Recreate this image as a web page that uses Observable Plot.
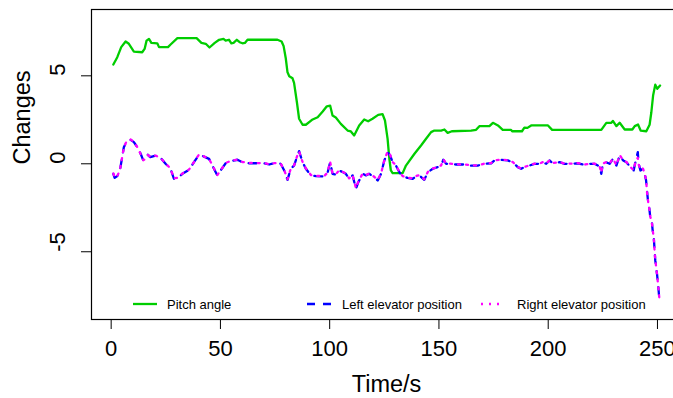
<!DOCTYPE html>
<html>
<head>
<meta charset="utf-8">
<script src="https://cdn.jsdelivr.net/npm/d3@7"></script>
<script src="https://cdn.jsdelivr.net/npm/@observablehq/plot@0.6"></script>
<style>
  html, body { margin: 0; padding: 0; overflow: hidden; background: #fff; }
  #wrap { position: relative; width: 681px; height: 398px; }
  #legend { position: absolute; left: 0; top: 0; pointer-events: none; }
</style>
</head>
<body>
<div id="wrap"></div>
<script>
// ---- data ----
const pitchTime = [1, 2.8, 4.6, 6.6, 8.1, 10.4, 14.2, 15.3, 16.2, 17.3, 18.4, 21.1, 21.9, 26, 27.2, 30.3, 39.1, 41.3, 43.3, 45, 47.4, 49.4, 51.4, 52.4, 53.9, 55, 56, 57.5, 58.8, 60.1, 61.2, 62.4, 76.1, 78, 78.9, 79.9, 80.7, 81.5, 83, 83.7, 85, 86, 87.6, 89.1, 92.2, 94.5, 96.8, 98.7, 100.2, 101.3, 102.8, 105.1, 108.2, 109.7, 111.2, 113.5, 115.8, 117.6, 119.6, 122.2, 124.2, 125.3, 126.5, 127.3, 128, 128.8, 133.4, 134.9, 138.8, 141.8, 144.1, 146.4, 147.9, 151, 152.5, 154, 155.9, 164.7, 167, 168.5, 173.1, 174.7, 177, 179.2, 183, 183.5, 188, 189.1, 190.5, 192.2, 199.9, 201.8, 224.3, 226.6, 228.9, 229.6, 231.2, 232.7, 235, 238.5, 239.6, 241.1, 242.3, 244.9, 246.4, 247.2, 248, 249, 249.9, 251.2];
const pitchAngle = [5.64, 6.06, 6.63, 6.95, 6.82, 6.38, 6.34, 6.53, 7.0, 7.1, 6.87, 6.85, 6.63, 6.63, 6.78, 7.14, 7.14, 6.87, 6.82, 6.61, 6.87, 7.05, 7.1, 7.0, 7.05, 6.85, 6.87, 7.05, 6.91, 6.85, 6.87, 7.05, 7.05, 6.95, 6.7, 6.0, 5.2, 4.98, 4.86, 4.6, 3.5, 2.56, 2.22, 2.22, 2.52, 2.65, 2.97, 3.27, 3.31, 2.74, 2.63, 2.27, 1.89, 1.84, 1.61, 2.18, 2.52, 2.42, 2.56, 2.78, 2.82, 2.46, 1.42, 0.28, -0.38, -0.53, -0.53, -0.1, 0.57, 1.04, 1.42, 1.8, 1.89, 1.89, 1.95, 1.76, 1.85, 1.89, 1.93, 2.14, 2.14, 2.33, 2.18, 1.93, 1.93, 1.85, 1.85, 2.06, 2.04, 2.18, 2.18, 1.93, 1.93, 2.33, 2.33, 2.44, 2.14, 2.33, 1.95, 1.95, 2.14, 2.23, 1.89, 1.85, 2.22, 2.93, 3.88, 4.5, 4.26, 4.45];

const elevTime = [1, 1.6, 2.8, 4, 5.8, 7.1, 8.9, 10.4, 12, 13.5, 14.7, 15.8, 16.8, 17.9, 20.3, 22.6, 24.9, 27.2, 28.7, 30.6, 32.6, 35.6, 37.9, 40.2, 42.5, 44.8, 46.3, 48.6, 50.1, 52.4, 54.7, 57.8, 60.1, 63.1, 67, 70, 72.3, 74.6, 77.6, 79.2, 80.7, 82.2, 83.7, 85, 86, 87.6, 89.1, 91.4, 93.7, 97.5, 99, 100.2, 101.3, 102.8, 104.4, 105.9, 107.4, 108.9, 110.5, 112, 113.1, 115.1, 116.6, 118.1, 120.4, 122, 123.5, 125, 126.5, 127.7, 128.8, 130.3, 131.9, 133.4, 135.7, 138, 139.5, 141, 143.3, 144.9, 147.2, 149.5, 151, 152, 153.3, 155, 157.8, 161.6, 164.7, 167.8, 170.8, 173.9, 175.4, 178.5, 181.5, 183.8, 186.1, 187.6, 189.1, 191.4, 193.7, 196, 197.6, 199.1, 200.6, 202.1, 205.2, 207.5, 210.5, 213.6, 216.6, 218.9, 221.2, 223.5, 224.3, 225, 226.6, 228.1, 229.6, 231.2, 232.7, 234.3, 235.8, 237.6, 239.1, 239.9, 241, 241.4, 242.2, 243.3, 244, 244.8, 245.2, 245.8, 246.3, 246.7, 247.4, 247.8, 248.3, 248.6, 249, 249.8, 250.4, 250.9];
const leftElevator = [-0.57, -0.8, -0.7, -0.38, 0.94, 1.28, 1.36, 1.23, 0.94, 0.57, 0.19, 0.28, 0.51, 0.38, 0.47, 0.34, 0, -0.28, -0.85, -0.8, -0.57, -0.34, 0.09, 0.51, 0.41, 0.28, -0.1, -0.66, -0.38, 0.03, 0.15, 0.23, 0.09, 0.03, 0.03, 0.03, -0.04, 0.03, 0, -0.38, -0.91, -0.28, -0.1, 0.38, 0.72, 0.09, -0.28, -0.66, -0.7, -0.72, -0.53, 0.09, -0.57, -0.62, -0.38, -0.47, -0.57, -0.85, -0.66, -1.42, -1.04, -0.57, -0.66, -0.57, -0.76, -0.95, -0.57, 0.19, 0.66, 0.47, 0.09, -0.1, -0.48, -0.72, -0.8, -0.85, -0.72, -0.66, -0.91, -0.48, -0.28, -0.19, -0.1, 0.23, 0, 0, -0.04, -0.04, -0.1, -0.1, 0, 0.03, 0.19, 0.23, 0.19, 0.09, -0.19, -0.28, -0.19, -0.1, 0, 0, 0.09, 0, 0.19, 0.03, 0.09, 0, 0, 0.03, -0.06, 0, 0, -0.15, -0.57, 0, 0.09, 0, 0.28, -0.1, 0.47, 0.19, 0.09, -0.19, -0.38, 0.09, 0.66, 0, -0.38, -0.28, -0.48, -0.95, -1.52, -2.27, -2.56, -3.03, -3.22, -3.79, -4.17, -4.74, -5.49, -6.27, -7.01, -7.77];
const rightElevator = [-0.55, -0.78, -0.7, -0.36, 0.92, 1.3, 1.38, 1.25, 0.94, 0.55, 0.2, 0.3, 0.5, 0.4, 0.47, 0.33, 0.02, -0.27, -0.83, -0.79, -0.55, -0.33, 0.1, 0.53, 0.42, 0.27, -0.08, -0.64, -0.37, 0.05, 0.16, 0.24, 0.1, 0.05, 0.04, 0.04, -0.03, 0.04, 0.01, -0.36, -0.88, -0.27, -0.09, 0.4, 0.7, 0.1, -0.26, -0.64, -0.69, -0.7, -0.5, 0.12, -0.55, -0.6, -0.36, -0.46, -0.55, -0.83, -0.64, -1.38, -1.02, -0.55, -0.64, -0.55, -0.74, -0.92, -0.55, 0.2, 0.7, 0.5, 0.1, -0.08, -0.46, -0.7, -0.78, -0.83, -0.7, -0.64, -0.88, -0.46, -0.27, -0.18, -0.09, 0.25, 0.01, 0.01, -0.03, -0.03, -0.09, -0.09, 0.01, 0.04, 0.2, 0.24, 0.2, 0.1, -0.18, -0.27, -0.18, -0.09, 0.01, 0.01, 0.1, 0.01, 0.2, 0.04, 0.1, 0.01, 0.01, 0.04, -0.05, 0.01, 0.01, -0.13, -0.5, 0.01, 0.1, 0.01, 0.3, -0.08, 0.5, 0.2, 0.1, -0.18, -0.36, 0.1, 0.35, -0.05, -0.32, -0.25, -0.5, -0.9, -1.6, -2.2, -2.6, -3.0, -3.3, -3.75, -4.2, -4.8, -5.45, -6.3, -7.0, -7.7];

const xTicks = [0, 50, 100, 150, 200, 250];
const yTicks = [-5, 0, 5];
const xLabel = "Time/s";
const yLabel = "Changes";
const seriesNames = ["Pitch angle", "Left elevator position", "Right elevator position"];
const seriesColors = ["#00cd00", "#0000ff", "#ff00ff"];

// ---- build tables ----
const pitch = pitchTime.map((t, i) => ({t, v: pitchAngle[i]}));
const left = elevTime.map((t, i) => ({t, v: leftElevator[i]}));
const right = elevTime.map((t, i) => ({t, v: rightElevator[i]}));

const font = "'Liberation Sans', Arial, Helvetica, sans-serif";

const chart = Plot.plot({
  width: 681,
  height: 398,
  marginLeft: 91,
  marginRight: 0,
  marginTop: 9,
  marginBottom: 79,
  style: {fontFamily: font, background: "#fff", color: "#000"},
  x: {domain: [-9, 261]},
  y: {domain: [-8.85, 8.77]},
  marks: [
    Plot.frame({stroke: "#000", strokeWidth: 1.2}),
    Plot.axisX({ticks: xTicks, tickSize: 10, fill: "none", label: null, stroke: "#000"}),
    Plot.axisY({ticks: yTicks, tickSize: 10, fill: "none", label: null, stroke: "#000"}),
    Plot.text(xTicks, {x: d => d, text: d => String(d), frameAnchor: "bottom", dy: 29, lineAnchor: "middle", fontSize: 22, fill: "#000"}),
    Plot.text(yTicks, {y: d => d, text: d => String(d), frameAnchor: "left", dx: -34, rotate: -90, lineAnchor: "middle", fontSize: 22, fill: "#000"}),
    Plot.text([xLabel], {text: d => d, frameAnchor: "bottom", dy: 65, lineAnchor: "middle", fontSize: 23.5, fill: "#000"}),
    Plot.text([yLabel], {text: d => d, frameAnchor: "left", dx: -69, rotate: -90, lineAnchor: "middle", fontSize: 23.5, fill: "#000"}),
    Plot.line(pitch, {x: "t", y: "v", stroke: seriesColors[0], strokeWidth: 2.3}),
    Plot.line(left, {x: "t", y: "v", stroke: seriesColors[1], strokeWidth: 2.3, strokeDasharray: "8,8"}),
    Plot.line(right, {x: "t", y: "v", stroke: seriesColors[2], strokeWidth: 2.3, strokeDasharray: "2,6"})
  ]
});

const wrap = document.getElementById("wrap");
wrap.appendChild(chart);

// ---- legend (R style, horizontal, no box) ----
const leg = d3.create("svg").attr("id", "legend").attr("width", 681).attr("height", 398)
  .style("font-family", font);
const items = [
  {x1: 133, x2: 157, tx: 167, dash: null},
  {x1: 307, x2: 333, tx: 342, dash: "8,8"},
  {x1: 481, x2: 503, tx: 517, dash: "2,6"}
];
items.forEach((it, i) => {
  const g = leg.append("g");
  g.append("line").attr("x1", it.x1).attr("x2", it.x2).attr("y1", 304).attr("y2", 304)
    .attr("stroke", seriesColors[i]).attr("stroke-width", 2.3)
    .attr("stroke-dasharray", it.dash);
  g.append("text").attr("x", it.tx).attr("y", 304).attr("dy", "0.35em")
    .attr("font-size", 13).attr("fill", "#000").text(seriesNames[i]);
});
wrap.appendChild(leg.node());
</script>
</body>
</html>
